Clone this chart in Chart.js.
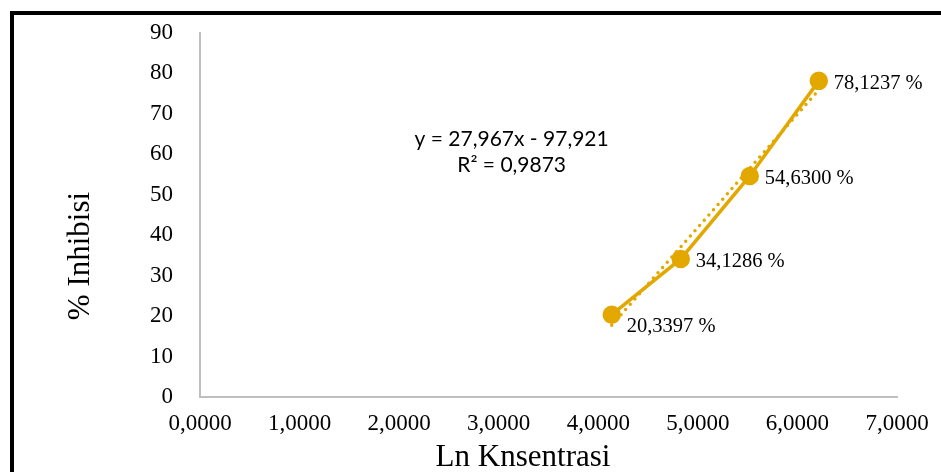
<!DOCTYPE html>
<html>
<head>
<meta charset="utf-8">
<script src="https://cdn.jsdelivr.net/npm/chart.js@4.4.1/dist/chart.umd.min.js"></script>
<style>
  body { margin: 0; background: #fff; }
  #wrap { position: relative; width: 941px; height: 472px; overflow: hidden; }
  #frame { position: absolute; left: 10px; top: 11px; right: -10px; bottom: -10px; border-top: 4px solid #000; border-left: 4px solid #000; }
  canvas { position: absolute; left: 0; top: 0; }
</style>
</head>
<body>
<div id="wrap">
  <div id="frame"></div>
  <canvas id="grafik" width="941" height="472"></canvas>
</div>
<script>
// data
var lnKonsentrasi = [4.1352, 4.8283, 5.5215, 6.2146];
var inhibisi = [20.3397, 34.1286, 54.6300, 78.1237];
var labelTitik = ['20,3397 %', '34,1286 %', '54,6300 %', '78,1237 %'];
var xTickLabels = ['0,0000', '1,0000', '2,0000', '3,0000', '4,0000', '5,0000', '6,0000', '7,0000'];
var slope = 27.967, intercept = -97.921;
var teksPersamaan = ['y = 27,967x - 97,921', 'R² = 0,9873'];

var warna = '#E3A800';

var titikUtama = lnKonsentrasi.map(function(x, i){ return {x: x, y: inhibisi[i]}; });
var xAwal = lnKonsentrasi[0], xAkhir = lnKonsentrasi[lnKonsentrasi.length - 1];
var garisTren = [
    {x: xAwal, y: slope * xAwal + intercept},
    {x: xAkhir, y: slope * xAkhir + intercept}
];

var teksPlugin = {
    id: 'teksPlugin',
    afterDatasetsDraw: function(chart){
        var ctx = chart.ctx;
        var sx = chart.scales.x, sy = chart.scales.y;
        ctx.save();
        // label titik
        ctx.fillStyle = '#000';
        ctx.font = '20.5px "Liberation Serif"';
        ctx.textAlign = 'left';
        ctx.textBaseline = 'middle';
        chart.getDatasetMeta(1).data.forEach(function(pt, i){
            var dy = i === 0 ? 12 : 3;
            ctx.fillText(labelTitik[i], pt.x + 15, pt.y + dy);
        });
        // persamaan trendline
        ctx.font = '21px Lato';
        ctx.textAlign = 'center';
        var ex = sx.getPixelForValue(3.13);
        ctx.fillText(teksPersamaan[0], ex, sy.getPixelForValue(63.8));
        ctx.fillText(teksPersamaan[1], ex, sy.getPixelForValue(57.2));
        // judul sumbu
        ctx.font = '31px "Liberation Serif"';
        ctx.fillText('Ln Knsentrasi', 523, 458);
        ctx.translate(81, 256);
        ctx.rotate(-Math.PI / 2);
        ctx.fillText('% Inhibisi', 0, 0);
        ctx.restore();
    }
};

new Chart(document.getElementById('grafik').getContext('2d'), {
    type: 'scatter',
    data: {
        datasets: [
            { data: garisTren, showLine: true, borderColor: warna, borderWidth: 3.5, borderDash: [0, 7], borderCapStyle: 'round', pointRadius: 0 },
            { data: titikUtama, showLine: true, borderColor: warna, backgroundColor: warna, borderWidth: 3.5, pointRadius: 7.5, pointHoverRadius: 7.5 }
        ]
    },
    options: {
        responsive: false, animation: false,
        layout: { padding: { left: 0, right: 44, top: 26, bottom: 0 } },
        plugins: { legend: { display: false }, tooltip: { enabled: false } },
        scales: {
            x: {
                type: 'linear', min: 0, max: 7,
                grid: { display: false },
                border: { display: true, color: '#BFBFBF', width: 2 },
                afterFit: function(s){ s.height = 75; },
                ticks: { stepSize: 1, padding: 5, color: '#000', font: { family: 'Liberation Serif', size: 23 },
                    callback: function(v, i){ return xTickLabels[i]; } }
            },
            y: {
                min: 0, max: 90,
                grid: { display: false },
                border: { display: true, color: '#BFBFBF', width: 2 },
                afterFit: function(s){ s.width = 200; },
                ticks: { stepSize: 10, padding: 19, color: '#000', font: { family: 'Liberation Serif', size: 23 } }
            }
        }
    },
    plugins: [teksPlugin]
});
</script>
</body>
</html>
